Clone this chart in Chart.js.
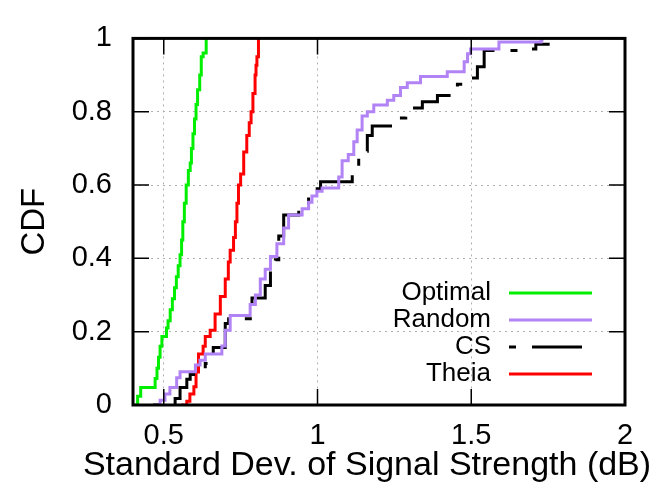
<!DOCTYPE html>
<html>
<head>
<meta charset="utf-8">
<script src="https://cdn.jsdelivr.net/npm/chart.js@4.4.1/dist/chart.umd.min.js"></script>
<style>
  html, body { margin: 0; padding: 0; background: #fff; }
  #wrap { width: 661px; height: 488px; }
</style>
</head>
<body>
<div id="wrap"><canvas id="cdfChart"></canvas></div>
<script>
// tick positions
const xTicks = [0.5, 1, 1.5, 2];
const yTicks = [0, 0.2, 0.4, 0.6, 0.8, 1];
const xTitle = "Standard Dev. of Signal Strength (dB)";

// Optimal
const optimalX = [0.405, 0.415, 0.425, 0.466, 0.472, 0.478, 0.483, 0.488, 0.494, 0.504, 0.509, 0.514, 0.521, 0.528, 0.535, 0.541, 0.547, 0.553, 0.558, 0.562, 0.567, 0.573, 0.58, 0.586, 0.59, 0.595, 0.6, 0.605, 0.61, 0.617, 0.622, 0.628, 0.638];
const optimalY = [0, 0.024, 0.048, 0.048, 0.072, 0.1, 0.13, 0.16, 0.187, 0.187, 0.21, 0.23, 0.26, 0.29, 0.32, 0.35, 0.38, 0.41, 0.45, 0.5, 0.55, 0.6, 0.64, 0.66, 0.7, 0.74, 0.78, 0.82, 0.86, 0.9, 0.95, 0.96, 1];

// Random
const randomX = [0.47, 0.488, 0.504, 0.52, 0.542, 0.553, 0.597, 0.603, 0.618, 0.635, 0.673, 0.689, 0.7, 0.716, 0.77, 0.781, 0.798, 0.814, 0.83, 0.847, 0.868, 0.89, 0.906, 0.934, 0.95, 0.971, 0.982, 0.998, 1.015, 1.058, 1.069, 1.08, 1.1, 1.118, 1.129, 1.145, 1.162, 1.183, 1.227, 1.248, 1.27, 1.292, 1.335, 1.411, 1.422, 1.466, 1.477, 1.488, 1.498, 1.542, 1.59, 1.694, 1.727, 1.73];
const randomY = [0, 0.013, 0.03, 0.048, 0.074, 0.091, 0.091, 0.109, 0.122, 0.139, 0.139, 0.161, 0.204, 0.244, 0.244, 0.274, 0.3, 0.344, 0.37, 0.405, 0.44, 0.483, 0.518, 0.518, 0.535, 0.553, 0.57, 0.583, 0.592, 0.592, 0.622, 0.666, 0.683, 0.718, 0.75, 0.788, 0.8, 0.818, 0.831, 0.844, 0.866, 0.879, 0.896, 0.896, 0.909, 0.909, 0.936, 0.958, 0.971, 0.971, 0.99, 0.99, 0.995, 1];

// CS
const csX = [0.465, 0.537, 0.553, 0.575, 0.586, 0.597, 0.635, 0.661, 0.7, 0.711, 0.776, 0.787, 0.83, 0.847, 0.863, 0.874, 0.89, 0.939, 0.971, 0.993, 1.01, 1.08, 1.113, 1.134, 1.162, 1.178, 1.238, 1.248, 1.287, 1.341, 1.39, 1.444, 1.455, 1.488, 1.52, 1.542, 1.694, 1.71, 1.755];
const csY = [0, 0.018, 0.048, 0.07, 0.083, 0.09, 0.113, 0.157, 0.222, 0.235, 0.235, 0.292, 0.326, 0.37, 0.396, 0.461, 0.518, 0.544, 0.579, 0.59, 0.609, 0.609, 0.644, 0.692, 0.735, 0.761, 0.761, 0.783, 0.81, 0.827, 0.844, 0.844, 0.875, 0.892, 0.923, 0.967, 0.971, 0.984, 0.984];

// Theia
const theiaX = [0.557, 0.575, 0.585, 0.598, 0.605, 0.613, 0.62, 0.628, 0.635, 0.651, 0.667, 0.684, 0.7, 0.71, 0.716, 0.727, 0.733, 0.738, 0.743, 0.75, 0.76, 0.77, 0.778, 0.784, 0.79, 0.797, 0.8, 0.803, 0.808];
const theiaY = [0, 0.01, 0.03, 0.05, 0.09, 0.139, 0.139, 0.16, 0.187, 0.204, 0.248, 0.296, 0.344, 0.39, 0.422, 0.457, 0.5, 0.55, 0.6, 0.63, 0.69, 0.735, 0.77, 0.8, 0.85, 0.9, 0.927, 0.95, 1];

const toPoints = (xs, ys) => xs.map((x, i) => ({ x: x, y: ys[i] }));

const FONT = "'Liberation Sans', Arial, sans-serif";
const csDash = [7, 16, 50, 16];

// gnuplot-ish frame: thick border, inward ticks on all sides, inside legend
const framePlugin = {
  id: "frame",
  afterDatasetsDraw(chart) {
    const { ctx, chartArea: a, scales } = chart;
    const tl = 16;
    ctx.save();
    ctx.strokeStyle = "#000";
    ctx.lineWidth = 1.5;
    ctx.beginPath();
    xTicks.forEach(v => {
      const px = scales.x.getPixelForValue(v);
      ctx.moveTo(px, a.bottom); ctx.lineTo(px, a.bottom - tl);
      ctx.moveTo(px, a.top); ctx.lineTo(px, a.top + tl);
    });
    yTicks.forEach(v => {
      const py = scales.y.getPixelForValue(v);
      ctx.moveTo(a.left, py); ctx.lineTo(a.left + tl, py);
      ctx.moveTo(a.right, py); ctx.lineTo(a.right - tl, py);
    });
    ctx.stroke();
    ctx.lineWidth = 3;
    ctx.strokeRect(a.left, a.top, a.right - a.left, a.bottom - a.top);

    // legend
    const textRight = a.left + 358;
    const lineStart = a.left + 376;
    const lineLen = 83;
    const rowY = [293, 320, 347, 374];
    ctx.font = "26px " + FONT;
    ctx.textAlign = "right";
    ctx.textBaseline = "middle";
    chart.data.datasets.forEach((ds, i) => {
      const y = rowY[i];
      ctx.fillStyle = "#000";
      ctx.fillText(ds.label, textRight, y);
      ctx.strokeStyle = ds.borderColor;
      ctx.lineWidth = 3;
      ctx.setLineDash(ds.borderDash || []);
      ctx.beginPath();
      ctx.moveTo(lineStart, y);
      ctx.lineTo(lineStart + lineLen, y);
      ctx.stroke();
      ctx.setLineDash([]);
    });

    // x axis title (wider than the plot, centred a bit left of it)
    ctx.font = "34px " + FONT;
    ctx.textAlign = "center";
    ctx.fillStyle = "#000";
    ctx.fillText(xTitle, 367, 466);
    ctx.restore();
  }
};

const lineStyle = { borderWidth: 3, pointRadius: 0, stepped: "before", fill: false, tension: 0 };

new Chart(document.getElementById("cdfChart"), {
  type: "line",
  data: {
    datasets: [
      Object.assign({ label: "Optimal", data: toPoints(optimalX, optimalY), borderColor: "#00ee00" }, lineStyle),
      Object.assign({ label: "Random", data: toPoints(randomX, randomY), borderColor: "#b283f5" }, lineStyle),
      Object.assign({ label: "CS", data: toPoints(csX, csY), borderColor: "#000000", borderDash: csDash }, lineStyle),
      Object.assign({ label: "Theia", data: toPoints(theiaX, theiaY), borderColor: "#ff0000" }, lineStyle)
    ]
  },
  options: {
    responsive: true,
    maintainAspectRatio: false,
    animation: false,
    layout: { padding: { left: 0, right: 36, top: 22, bottom: 0 } },
    plugins: {
      legend: { display: false },
      tooltip: { enabled: false }
    },
    scales: {
      x: {
        type: "linear",
        min: 0.4,
        max: 2,
        afterBuildTicks: s => { s.ticks = xTicks.map(v => ({ value: v })); },
        afterFit: s => { s.height = 83; },
        grid: { color: "#b0b0b0", lineWidth: 1, drawTicks: false },
        border: { display: false, dash: [2, 4] },
        ticks: { color: "#000", padding: 14, font: { family: FONT, size: 29 }, callback: v => String(v), maxRotation: 0 },
        title: { display: false }
      },
      y: {
        min: 0,
        max: 1,
        afterBuildTicks: s => { s.ticks = yTicks.map(v => ({ value: v })); },
        afterFit: s => { s.width = 133; },
        grid: { color: "#b0b0b0", lineWidth: 1, drawTicks: false },
        border: { display: false, dash: [2, 4] },
        ticks: { color: "#000", padding: 21, font: { family: FONT, size: 29 }, callback: v => String(v) },
        title: { display: true, text: "CDF", color: "#000", font: { family: FONT, size: 33 }, padding: { top: 15, bottom: 0 } }
      }
    }
  },
  plugins: [framePlugin]
});
</script>
</body>
</html>
